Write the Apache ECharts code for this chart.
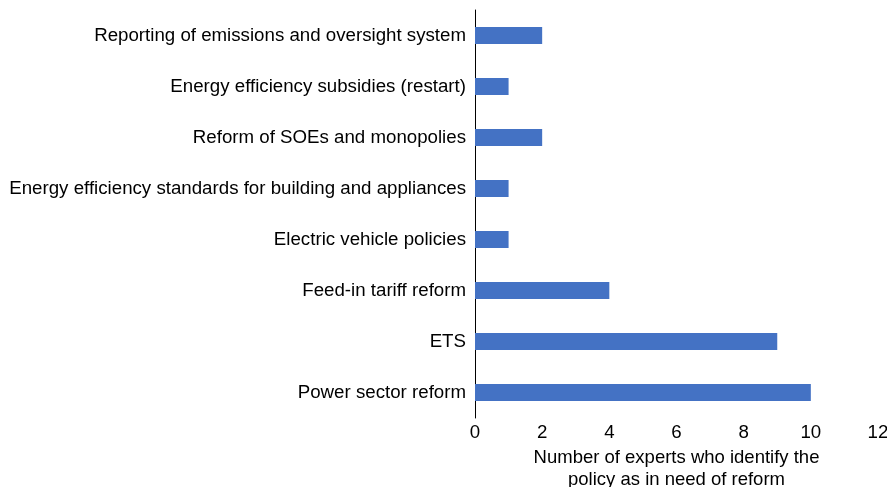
<!DOCTYPE html>
<html><head><meta charset="utf-8">
<script src="https://cdn.jsdelivr.net/npm/echarts@6/dist/echarts.min.js"></script>
<style>html,body{margin:0;padding:0;background:#fff}#c{width:887px;height:487px}</style>
</head><body><div id="c"></div>
<script>
const categories = [
  "Power sector reform",
  "ETS",
  "Feed-in tariff reform",
  "Electric vehicle policies",
  "Energy efficiency standards for building and appliances",
  "Reform of SOEs and monopolies",
  "Energy efficiency subsidies (restart)",
  "Reporting of emissions and oversight system"
];
const values = [10, 9, 4, 1, 1, 2, 1, 2];
const xTicks = { min: 0, max: 12, interval: 2 };
const xName = "Number of experts who identify the\npolicy as in need of reform";

const chart = echarts.init(document.getElementById('c'));
const font = "'Liberation Sans', Arial, Helvetica, sans-serif";
chart.setOption({
  animation: false,
  grid: { left: 475, right: 9, top: 10, bottom: 69, containLabel: false, outerBoundsMode: 'none' },
  xAxis: {
    type: 'value', min: xTicks.min, max: xTicks.max, interval: xTicks.interval,
    splitLine: { show: false },
    axisLine: { show: false }, axisTick: { show: false },
    axisLabel: { fontFamily: font, fontSize: 18.7, color: '#000', margin: 5 },
    name: xName, nameLocation: 'middle', nameGap: 26,
    nameTextStyle: { fontFamily: font, fontSize: 18.5, color: '#000', lineHeight: 22 }
  },
  yAxis: {
    type: 'category', data: categories,
    axisLine: { show: true, lineStyle: { color: '#000', width: 1 } },
    axisTick: { show: false },
    axisLabel: { fontFamily: font, fontSize: 18.7, color: '#000', margin: 9 }
  },
  series: [{
    type: 'bar', data: values, barWidth: 17,
    itemStyle: { color: '#4472C4' }
  }]
});
</script></body></html>
